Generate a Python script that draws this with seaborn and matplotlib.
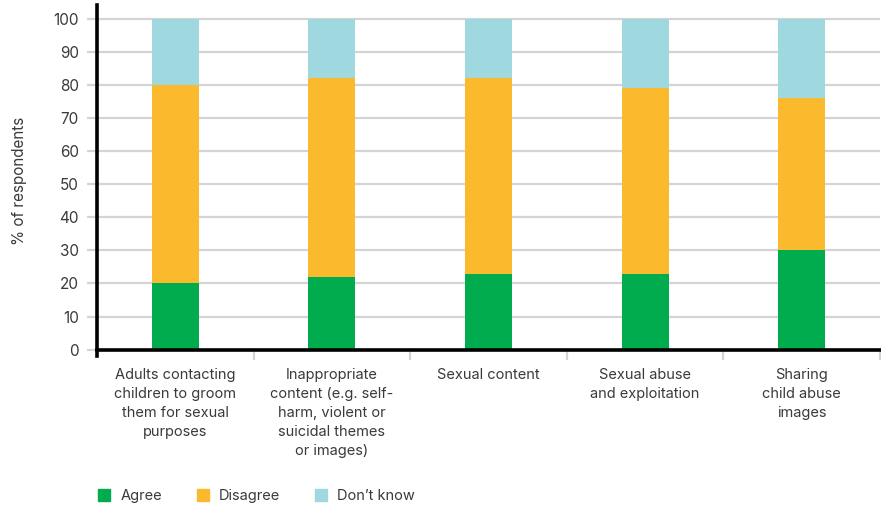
import pandas as pd
import matplotlib.pyplot as plt
import matplotlib.patches as mpatches
import seaborn as sns

sns.set_theme(style="white")
plt.rcParams['font.family'] = ['Inter', 'DejaVu Sans']

categories = ['Adults contacting\nchildren to groom\nthem for sexual\npurposes',
              'Inappropriate\ncontent (e.g. self-\nharm, violent or\nsuicidal themes\nor images)',
              'Sexual content',
              'Sexual abuse\nand exploitation',
              'Sharing\nchild abuse\nimages']
agree    = [20, 22, 23, 23, 30]
disagree = [60, 60, 59, 56, 46]
dont_know = [20, 18, 18, 21, 24]
series = ['Agree', 'Disagree', 'Don\u2019t know']
colors = ['#00ac4e', '#fbb92e', '#a0d8e0']
text_col = '#3a3a3a'

df = pd.DataFrame({'category': categories, 'Agree': agree,
                   'Disagree': disagree, 'Don\u2019t know': dont_know})
df['top'] = df['Agree'] + df['Disagree'] + df['Don\u2019t know']
df['mid'] = df['Agree'] + df['Disagree']

fig = plt.figure(figsize=(8.81, 5.09), dpi=100)
ax = fig.add_axes([97/881, 1 - 356/509, 783/881, (356 - 5)/509])

# stacked bars: draw cumulative totals back to front
for col, c in zip(['top', 'mid', 'Agree'], colors[::-1]):
    sns.barplot(data=df, x='category', y=col, color=c, width=0.3,
                saturation=1, linewidth=0, edgecolor=c, ax=ax, zorder=3)

ax.set_xlim(-0.5, 4.5)
ax.set_ylim(-1.9, 104.1)
ax.set_yticks(range(0, 101, 10))
ax.yaxis.grid(True, color='#d4d4d4', lw=1.6, zorder=0)
ax.set_axisbelow(True)

for s in ['top', 'right']:
    ax.spines[s].set_visible(False)
ax.spines['bottom'].set_position(('data', 0))
ax.spines['bottom'].set_color('black')
ax.spines['bottom'].set_linewidth(2.6)
ax.spines['bottom'].set_zorder(5)
ax.spines['left'].set_color('black')
ax.spines['left'].set_linewidth(2.6)

ax.tick_params(axis='y', left=True, length=7, width=1.6, color='#d4d4d4',
               labelsize=11, labelcolor=text_col, pad=6)
ax.yaxis.get_major_ticks()[0].tick1line.set_color('black')
ax.set_xticks(range(len(categories)))
ax.set_xticklabels(categories, fontsize=10.5, color=text_col, linespacing=1.45)
ax.tick_params(axis='x', bottom=True, length=0, pad=13)
ax.set_xticks([0.5, 1.5, 2.5, 3.5, 4.5], minor=True)
ax.tick_params(axis='x', which='minor', bottom=True, length=7, width=1.6,
               color='#d4d4d4', direction='out')
ax.set_xlabel('')
ax.set_ylabel('% of respondents', fontsize=11, color=text_col, labelpad=19)

handles = [mpatches.Patch(color=c, label=s) for c, s in zip(colors, series)]
fig.legend(handles=handles, loc='center left', ncol=3, frameon=False,
           bbox_to_anchor=(98/881, 1 - 496/509), fontsize=10.5,
           labelcolor=text_col, handlelength=0.85, handleheight=0.85,
           handletextpad=0.7, columnspacing=2.35, borderpad=0, borderaxespad=0)

plt.savefig('out.png', dpi=100)
